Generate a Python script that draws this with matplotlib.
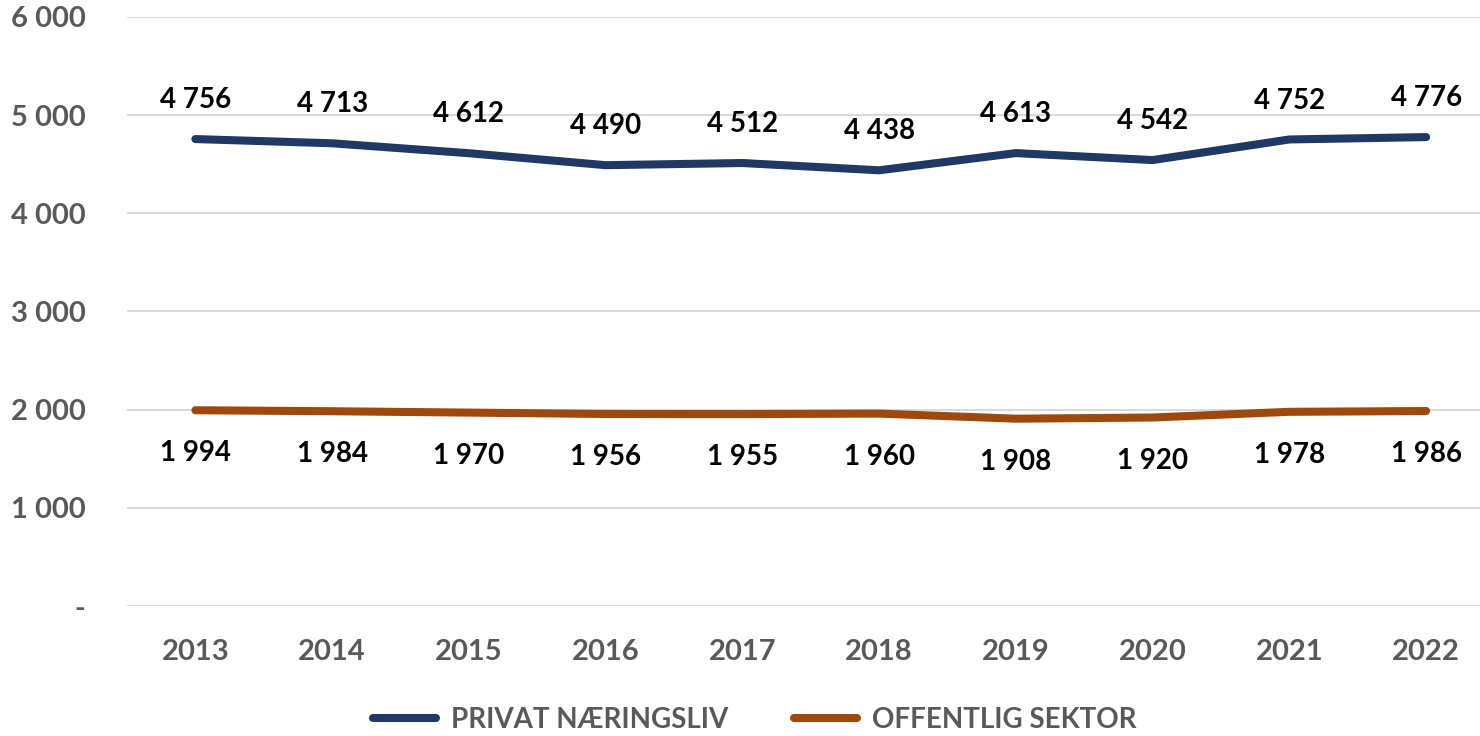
import matplotlib.pyplot as plt
from matplotlib.ticker import FuncFormatter

years = ["2013", "2014", "2015", "2016", "2017", "2018", "2019", "2020", "2021", "2022"]
privat = [4756, 4713, 4612, 4490, 4512, 4438, 4613, 4542, 4752, 4776]
offentlig = [1994, 1984, 1970, 1956, 1955, 1960, 1908, 1920, 1978, 1986]

BLUE = "#1F3864"
ORANGE = "#9E480E"
GREY = "#595959"

plt.rcParams["font.family"] = ["Lato", "DejaVu Sans"]


def space_thousands(v, pos=None):
    if v == 0:
        return "-"
    return f"{int(v):,}".replace(",", " ")


fig = plt.figure(figsize=(14.8, 7.36), dpi=100)
ax = fig.add_axes([0.0858, 0.1766, 0.924, 0.8004])

x = range(len(years))
ax.plot(x, privat, color=BLUE, lw=5.8, solid_capstyle="round", label="PRIVAT NÆRINGSLIV", zorder=3)
ax.plot(x, offentlig, color=ORANGE, lw=5.8, solid_capstyle="round", label="OFFENTLIG SEKTOR", zorder=3)

for i, v in enumerate(privat):
    ax.annotate(space_thousands(v), (i, v), xytext=(0, 28), textcoords="offset points",
                ha="center", va="center", fontsize=20, fontweight="bold", color="black")
for i, v in enumerate(offentlig):
    ax.annotate(space_thousands(v), (i, v), xytext=(0, -31), textcoords="offset points",
                ha="center", va="center", fontsize=20, fontweight="bold", color="black")

ax.set_xlim(-0.5, len(years) - 0.5)
ax.set_ylim(0, 6000)
ax.set_xticks(list(x))
ax.set_xticklabels(years)
ax.set_yticks(range(0, 6001, 1000))
ax.yaxis.set_major_formatter(FuncFormatter(space_thousands))

ax.grid(axis="y", color="#D9D9D9", lw=1.5)
ax.set_axisbelow(True)
for s in ax.spines.values():
    s.set_visible(False)
ax.tick_params(length=0)
ax.tick_params(axis="x", labelsize=21, labelcolor=GREY, pad=24)
ax.tick_params(axis="y", labelsize=21, labelcolor=GREY, pad=30)
for t in ax.get_xticklabels() + ax.get_yticklabels():
    t.set_fontweight("bold")

leg = fig.legend(loc="center", bbox_to_anchor=(0.51, 0.022), ncol=2, frameon=False,
                 fontsize=20, handlelength=2.27, handletextpad=0.54, columnspacing=2.34)
for t in leg.get_texts():
    t.set_color(GREY)
    t.set_fontweight("bold")

fig.savefig("out.png", dpi=100)
